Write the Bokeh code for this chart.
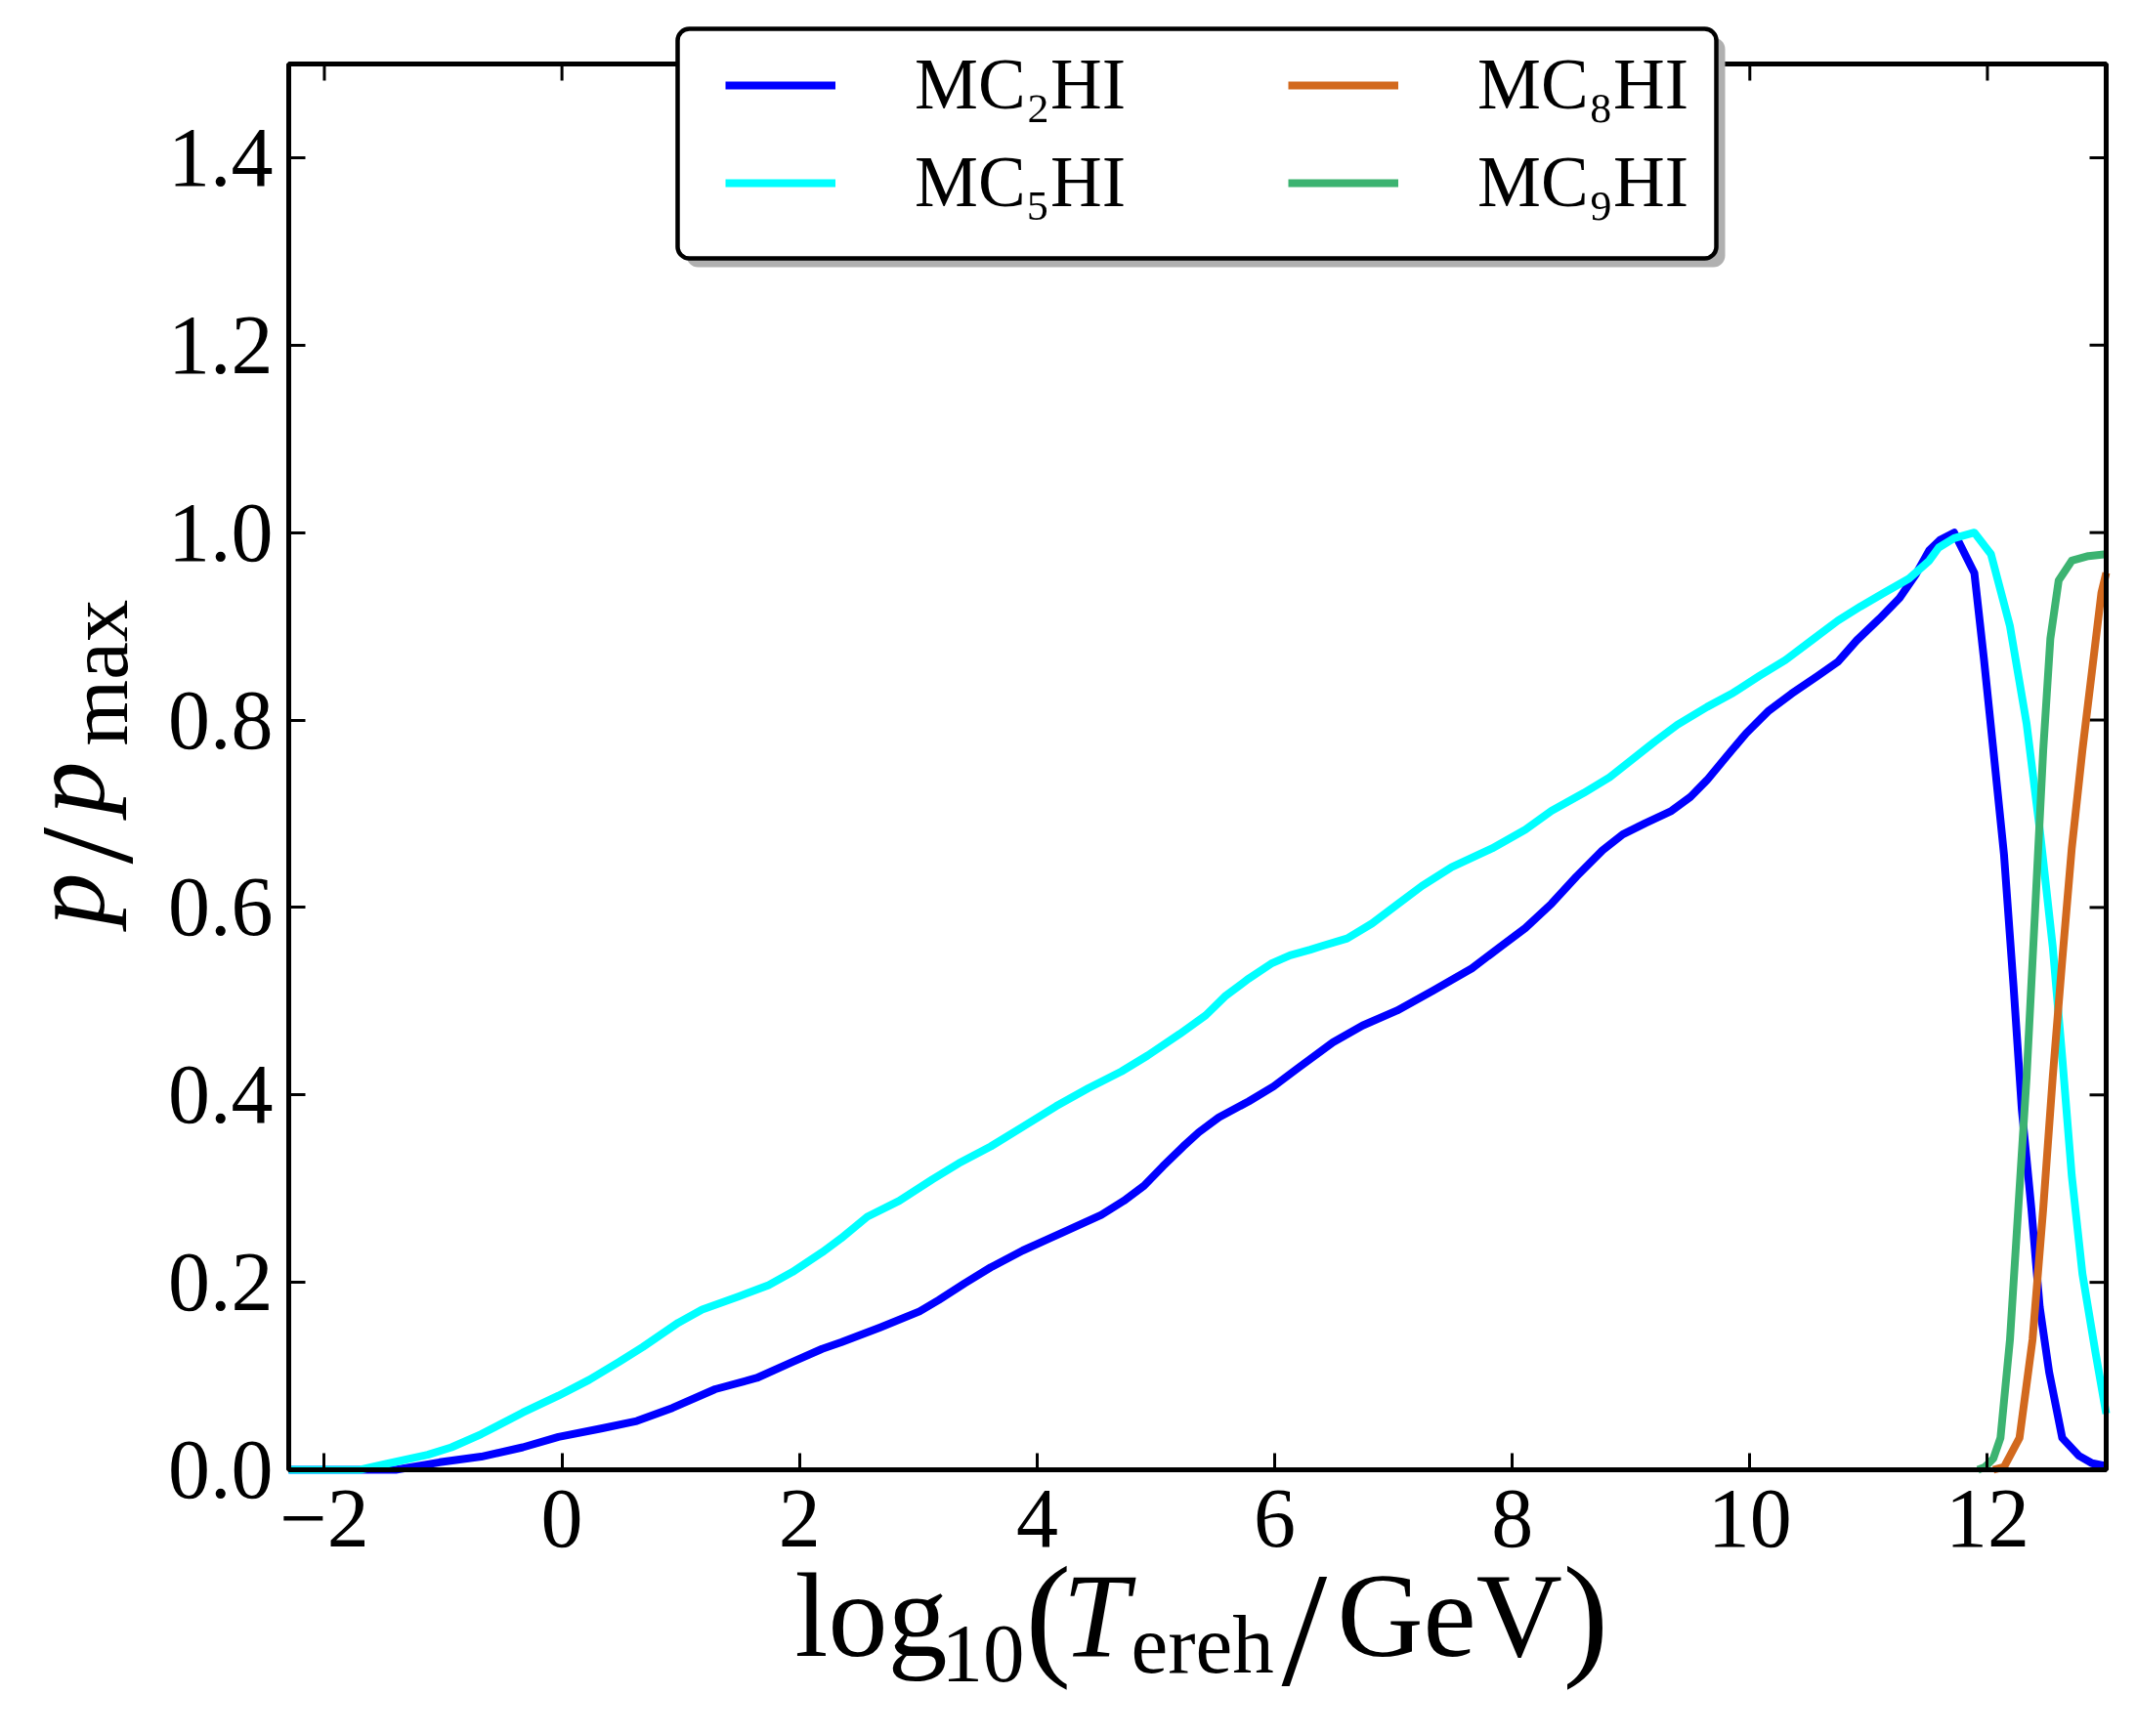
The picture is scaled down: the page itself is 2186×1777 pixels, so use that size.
import numpy as np
from bokeh.plotting import figure
from bokeh.models import (Range1d, LinearAxis, FixedTicker, Legend, LegendItem,
                          Label, BoxAnnotation, NumeralTickFormatter)
from bokeh.embed import file_html
from bokeh.resources import INLINE

# ---------------- data ----------------
mc2_x = [-2.3, -1.4, -1.03, -0.68, -0.33, -0.03, 0.33, 0.63, 0.93, 1.29, 1.64, 1.94,
         2.19, 2.35, 2.68, 3.01, 3.17, 3.39, 3.61, 3.88, 4.21, 4.54, 4.73, 4.90, 5.06,
         5.23, 5.36, 5.53, 5.78, 5.99, 6.19, 6.49, 6.74, 7.03, 7.33, 7.66, 7.91, 8.11,
         8.33, 8.54, 8.76, 8.93, 9.12, 9.34, 9.50, 9.64, 9.81, 9.97, 10.16, 10.35, 10.57,
         10.74, 10.90, 11.09, 11.26, 11.40, 11.51, 11.60, 11.72, 11.89, 11.97, 12.05,
         12.14, 12.22, 12.29, 12.37, 12.44, 12.52, 12.63, 12.77, 12.88, 13.0]
mc2_y = [0.0, 0.0, 0.008, 0.014, 0.024, 0.035, 0.044, 0.052, 0.066, 0.086, 0.098, 0.115,
         0.129, 0.136, 0.152, 0.169, 0.181, 0.199, 0.216, 0.234, 0.253, 0.272, 0.287, 0.303,
         0.324, 0.345, 0.360, 0.376, 0.393, 0.409, 0.428, 0.456, 0.474, 0.490, 0.511, 0.535,
         0.559, 0.578, 0.604, 0.633, 0.661, 0.678, 0.690, 0.703, 0.718, 0.736, 0.762, 0.786,
         0.810, 0.828, 0.847, 0.862, 0.885, 0.908, 0.930, 0.956, 0.981, 0.992, 1.0, 0.957,
         0.866, 0.768, 0.656, 0.516, 0.384, 0.279, 0.174, 0.104, 0.034, 0.015, 0.007, 0.004]

mc5_x = [-2.3, -1.7, -1.49, -1.13, -0.93, -0.68, -0.33, -0.03, 0.23, 0.48, 0.68, 0.98,
         1.18, 1.49, 1.74, 1.94, 2.19, 2.35, 2.57, 2.84, 3.12, 3.34, 3.61, 3.88, 4.16,
         4.43, 4.71, 4.93, 5.20, 5.42, 5.58, 5.78, 5.97, 6.13, 6.30, 6.40, 6.61, 6.82,
         7.03, 7.24, 7.49, 7.83, 8.11, 8.33, 8.60, 8.82, 9.01, 9.20, 9.39, 9.64, 9.86,
         10.08, 10.30, 10.52, 10.74, 10.93, 11.12, 11.34, 11.51, 11.59, 11.72, 11.89,
         12.03, 12.19, 12.33, 12.44, 12.55, 12.63, 12.71, 12.80, 12.91, 13.0]
mc5_y = [0.0, 0.0, 0.006, 0.016, 0.024, 0.038, 0.061, 0.079, 0.096, 0.115, 0.131, 0.157,
         0.171, 0.185, 0.197, 0.211, 0.232, 0.247, 0.270, 0.287, 0.310, 0.327, 0.345,
         0.366, 0.388, 0.407, 0.425, 0.442, 0.465, 0.485, 0.505, 0.524, 0.540, 0.549,
         0.555, 0.559, 0.567, 0.583, 0.603, 0.623, 0.643, 0.663, 0.683, 0.703, 0.722,
         0.739, 0.758, 0.777, 0.795, 0.814, 0.829, 0.847, 0.864, 0.885, 0.906, 0.921,
         0.935, 0.951, 0.970, 0.984, 0.994, 1.0, 0.977, 0.900, 0.796, 0.684, 0.558, 0.440,
         0.314, 0.209, 0.125, 0.060]

mc8_x = [12.05, 12.14, 12.27, 12.38, 12.47, 12.55, 12.63, 12.71, 12.80, 12.88, 12.96, 13.0]
mc8_y = [0.0, 0.003, 0.034, 0.139, 0.279, 0.419, 0.544, 0.663, 0.768, 0.852, 0.936, 0.957]

mc9_x = [11.92, 11.98, 12.05, 12.11, 12.19, 12.26, 12.33, 12.40, 12.47, 12.53, 12.60,
         12.71, 12.85, 13.0]
mc9_y = [0.0, 0.003, 0.012, 0.034, 0.139, 0.279, 0.419, 0.593, 0.768, 0.887, 0.949,
         0.970, 0.975, 0.977]

series_names = ["MC\u2082HI", "MC\u2085HI", "MC\u2088HI", "MC\u2089HI"]
series_colors = ["#0000ff", "#00ffff", "#d2691e", "#3cb371"]

x_ticks = [-2, 0, 2, 4, 6, 8, 10, 12]
x_tick_labels = ["\u22122", "0", "2", "4", "6", "8", "10", "12"]
y_ticks = [0.0, 0.2, 0.4, 0.6, 0.8, 1.0, 1.2, 1.4]

# axes limits of the plot box
X_LO, X_HI = -2.3, 13.0
Y_LO, Y_HI = 0.0, 1.5

FONT = "Liberation Serif"

# ---------------- canvas geometry (pixels) ----------------
W, H = 2178, 1769
BOX_L, BOX_R, BOX_T, BOX_B = 295, 2155, 65, 1504
sx = (BOX_R - BOX_L) / (X_HI - X_LO)
sy = (BOX_B - BOX_T) / (Y_HI - Y_LO)
x_range = Range1d(X_LO - BOX_L / sx, X_HI + (W - BOX_R) / sx)
y_range = Range1d(Y_LO - (H - BOX_B) / sy, Y_HI + BOX_T / sy)

p = figure(width=W, height=H, x_range=x_range, y_range=y_range,
           min_border=0, min_border_left=0, min_border_right=0,
           min_border_top=0, min_border_bottom=0,
           x_axis_location=None, y_axis_location=None, title=None,
           output_backend="svg", toolbar_location=None, tools="")
p.outline_line_color = None
p.background_fill_color = "white"
p.border_fill_color = "white"
p.grid.visible = False

TICK = 17
bottom_axis = LinearAxis(fixed_location=Y_LO, bounds=(X_LO, X_HI))
left_axis = LinearAxis(fixed_location=X_LO, bounds=(Y_LO, Y_HI))
p.add_layout(bottom_axis, "below")
p.add_layout(left_axis, "left")

bottom_axis.ticker = FixedTicker(ticks=x_ticks)
bottom_axis.major_label_overrides = dict(zip(x_ticks, x_tick_labels))
left_axis.ticker = FixedTicker(ticks=y_ticks)
left_axis.formatter = NumeralTickFormatter(format="0.0")
for ax in [bottom_axis, left_axis]:
    ax.axis_line_color = None
    ax.major_tick_in = TICK
    ax.major_tick_out = 0
    ax.major_tick_line_width = 3
    ax.major_tick_line_color = "black"
    ax.minor_tick_line_color = None
    ax.major_label_text_font = FONT
    ax.major_label_text_font_size = "86px"
    ax.major_label_text_color = "black"
bottom_axis.major_label_standoff = 21
left_axis.major_label_standoff = 16

# ticks on the top and right edges of the box
p.segment(x0=x_ticks, y0=[Y_HI] * len(x_ticks), x1=x_ticks,
          y1=[Y_HI - TICK / sy] * len(x_ticks), line_color="black", line_width=3)
p.segment(x0=[X_HI] * len(y_ticks), y0=y_ticks, x1=[X_HI - TICK / sx] * len(y_ticks),
          y1=y_ticks, line_color="black", line_width=3)

# ---------------- lines ----------------
xs = [mc2_x, mc5_x, mc8_x, mc9_x]
ys = [mc2_y, mc5_y, mc8_y, mc9_y]
renderers = []
for x, y, c in zip(xs, ys, series_colors):
    r = p.line(x, y, line_color=c, line_width=8, line_join="round")
    renderers.append(r)

# ---------------- frame of the box ----------------
frame = BoxAnnotation(left=X_LO, right=X_HI, bottom=Y_LO, top=Y_HI,
                      fill_alpha=0, line_color="black", line_alpha=1.0, line_width=5)
p.add_layout(frame)

# ---------------- legend box (shadow + rounded frame) ----------------
def sbox(l, r, t, b, **kw):
    return BoxAnnotation(left=l, right=r, top=H - t, bottom=H - b,
                         left_units="screen", right_units="screen",
                         top_units="screen", bottom_units="screen", **kw)

shadow = sbox(702, 1765, 38, 273, fill_color="#b0b0b0", fill_alpha=1.0,
              line_color=None, border_radius=12)
box = sbox(693, 1756, 29, 264, fill_color="white", fill_alpha=1.0,
           line_color="black", line_alpha=1.0, line_width=4.5, border_radius=12)
p.add_layout(shadow)
p.add_layout(box)

items = [LegendItem(label=n, renderers=[r]) for n, r in zip(series_names, renderers)]
legend = Legend(items=items, location=(742, H - 231), orientation="vertical", ncols=2,
                glyph_width=113, glyph_height=88, label_height=88, label_width=370,
                label_standoff=81, spacing=12, padding=0, margin=0,
                border_line_color=None, background_fill_alpha=0,
                label_text_font=FONT, label_text_font_size="73px",
                label_text_color="black")
p.add_layout(legend)

# ---------------- axis titles composed of text pieces ----------------
K = 0.32  # shift between the wanted baseline and the anchor Bokeh uses

def piece(text, x, y, size, italic=False, rotated=False):
    if rotated:
        x = x - K * size
    else:
        y = y - K * size
    return Label(x=x, y=H - y, x_units="screen", y_units="screen", text=text,
                 text_font=FONT, text_font_size=f"{size}px",
                 text_font_style="italic" if italic else "normal",
                 text_baseline="alphabetic", text_align="left",
                 angle=np.pi / 2 if rotated else 0.0, text_color="black")

xlab = [("log", 813, 1692, 122, False), ("10", 963, 1720, 85, False),
        ("(", 1049, 1697, 140, False), ("T", 1087, 1692, 122, True),
        ("ereh", 1157, 1710, 85, False), ("/", 1311, 1720, 168, False),
        ("GeV", 1368, 1692, 122, False), (")", 1599, 1697, 140, False)]
for t, x, y, s, it in xlab:
    p.add_layout(piece(t, x, y, s, it))

ylab = [("p", 104, 947, 108, True), ("/", 132, 884, 136, False),
        ("p", 104, 833, 108, True), ("max", 128, 763, 87, False)]
for t, x, y, s, it in ylab:
    p.add_layout(piece(t, x, y, s, it, rotated=True))

open("out.html", "w").write(file_html(p, INLINE))
